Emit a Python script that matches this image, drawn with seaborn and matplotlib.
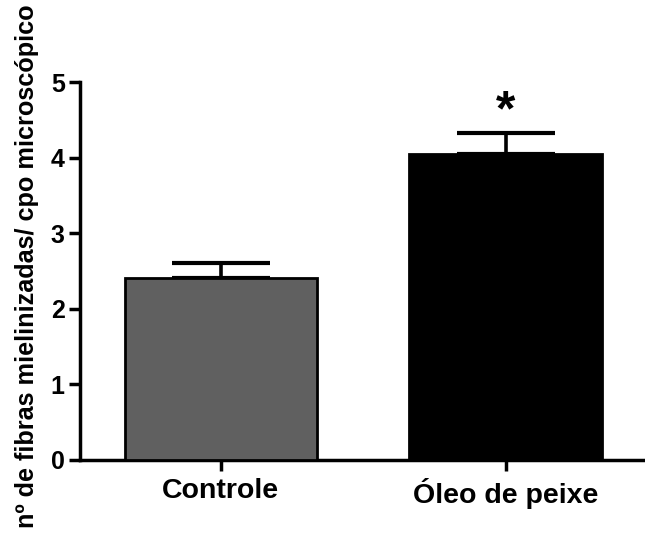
"""
Bar chart: myelinated fibres per microscopic field
"""

import matplotlib
matplotlib.use('Agg')
import matplotlib.pyplot as plt
import pandas as pd
import seaborn as sns

groups = ['Controle', 'Óleo de peixe']
means = [2.41, 4.05]
sem = [0.19, 0.27]
bar_colors = ['#606060', '#000000']
y_ticks = [0, 1, 2, 3, 4, 5]

df = pd.DataFrame({'grupo': groups, 'valor': means})

sns.set_style('ticks')
plt.rcParams['font.family'] = ['Liberation Sans', 'DejaVu Sans']
plt.rcParams['font.weight'] = 'bold'
plt.rcParams['text.color'] = 'black'
plt.rcParams['axes.labelcolor'] = 'black'
plt.rcParams['xtick.color'] = 'black'
plt.rcParams['ytick.color'] = 'black'
plt.rcParams['axes.edgecolor'] = 'black'

fig = plt.figure(figsize=(6.45, 5.33), dpi=100)
ax = fig.add_axes([0.124, 0.137, 0.876, 0.709])

sns.barplot(data=df, x='grupo', y='valor', hue='grupo', palette=bar_colors,
            width=0.675, edgecolor='black', linewidth=2.0, legend=False, ax=ax,
            zorder=3)

# upper-only error bars (SEM)
ax.errorbar(range(len(groups)), means, yerr=[[0] * len(sem), sem],
            fmt='none', ecolor='black', elinewidth=2.6, capsize=35,
            capthick=3, zorder=2)

ax.text(1, 4.9, '*', ha='center', va='top', fontsize=36,
        fontweight='bold', color='black')

ax.set_ylim(0, 5)
ax.set_xlim(-0.495, 1.49)
ax.set_yticks(y_ticks)
ax.set_xlabel('')
ax.set_ylabel('nº de fibras mielinizadas/ cpo microscópico', fontsize=18.2,
              fontweight='bold')
ax.yaxis.set_label_coords(-0.073, 0.513)

for side in ['top', 'right']:
    ax.spines[side].set_visible(False)
for side in ['left', 'bottom']:
    ax.spines[side].set_linewidth(2.5)
    ax.spines[side].set_color('black')

ax.tick_params(axis='y', labelsize=18, width=2.5, length=8, pad=3,
               colors='black')
ax.tick_params(axis='x', labelsize=20.5, width=2.5, length=8, pad=5,
               colors='black')
for lbl in ax.get_xticklabels() + ax.get_yticklabels():
    lbl.set_fontweight('bold')

fig.savefig('out.png', dpi=100)
